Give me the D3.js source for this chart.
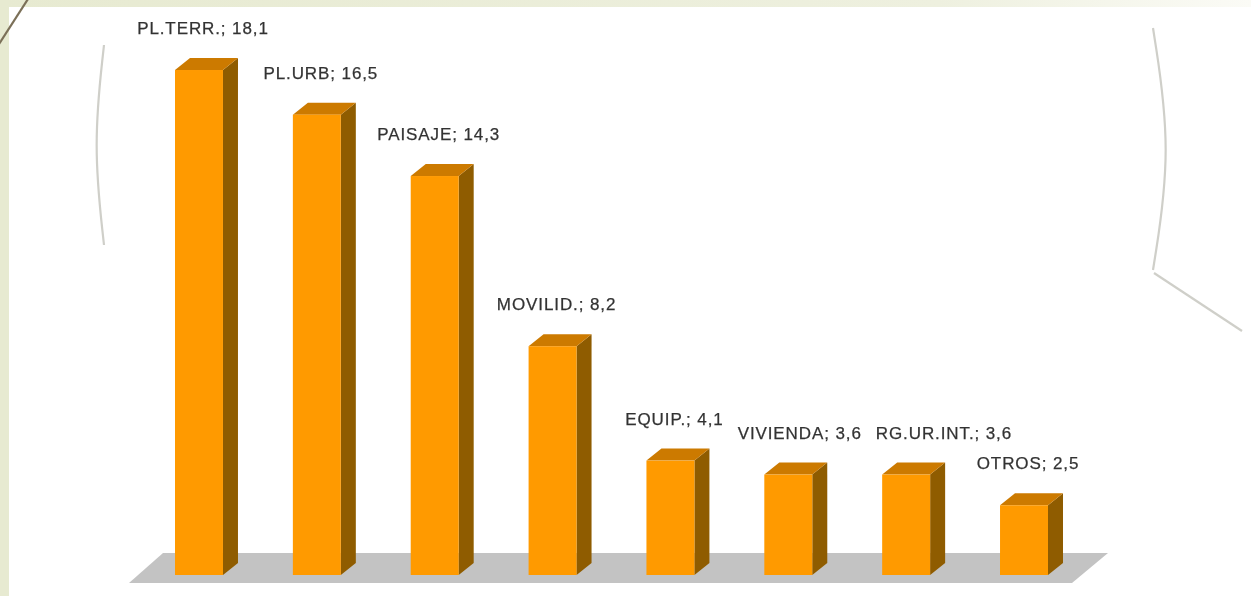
<!DOCTYPE html>
<html>
<head>
<meta charset="utf-8">
<script src="https://cdn.jsdelivr.net/npm/d3@7"></script>
<style>
  html, body { margin: 0; padding: 0; background: #ffffff; }
  svg { display: block; }
</style>
</head>
<body>
<svg id="chart" width="1251" height="596"></svg>
<script>
// ---- data ----
const categories = ["PL.TERR.", "PL.URB", "PAISAJE", "MOVILID.", "EQUIP.", "VIVIENDA", "RG.UR.INT.", "OTROS"];
const values = [18.1, 16.5, 14.3, 8.2, 4.1, 3.6, 3.6, 2.5];

// ---- layout ----
const W = 1251, H = 596;
const baseY = 575;
const depthX = 15, depthY = -12;

const svg = d3.select("#chart");

// background frame
const defs = svg.append("defs");
const grad = defs.append("linearGradient").attr("id", "topband").attr("x1", "0").attr("x2", "1").attr("y1", "0").attr("y2", "0");
grad.append("stop").attr("offset", "0").attr("stop-color", "#e7ead1");
grad.append("stop").attr("offset", "0.75").attr("stop-color", "#eef0df");
grad.append("stop").attr("offset", "1").attr("stop-color", "#fbfbf6");
const blur = defs.append("filter").attr("id", "soft");
blur.append("feGaussianBlur").attr("stdDeviation", 0.35);

svg.append("rect").attr("x", 0).attr("y", 0).attr("width", W).attr("height", H).attr("fill", "#ffffff");
svg.append("rect").attr("x", 0).attr("y", 0).attr("width", W).attr("height", 7).attr("fill", "url(#topband)");
svg.append("rect").attr("x", 0).attr("y", 0).attr("width", 9).attr("height", H).attr("fill", "#e7ead1");
svg.append("line").attr("x1", -1).attr("y1", 44).attr("x2", 28).attr("y2", -1)
  .attr("stroke", "#7b7058").attr("stroke-width", 2.2);

// decorative curves
const line = d3.line().curve(d3.curveBasis);
svg.append("path").attr("d", line([[104, 45], [93, 145], [104, 245]]))
  .attr("fill", "none").attr("stroke", "#cfcfc9").attr("stroke-width", 2.2);
svg.append("path").attr("d", line([[1153, 28], [1172, 150], [1153, 270]]))
  .attr("fill", "none").attr("stroke", "#cfcfc9").attr("stroke-width", 2.2);
svg.append("path").attr("d", d3.line()([[1154, 273], [1242, 331]]))
  .attr("fill", "none").attr("stroke", "#cfcfc9").attr("stroke-width", 2.2);

// scales
const x = d3.scaleBand().domain(categories).range([175, 1048]).paddingInner(0.593).paddingOuter(0);
const y = d3.scaleLinear().domain([0, 20]).range([baseY, baseY - 20 * 27.9]);
const bw = x.bandwidth();

const g = svg.append("g").attr("filter", "url(#soft)");

// floor
const r0 = x.range()[0], r1 = x.range()[1];
g.append("polygon")
  .attr("points", [[r0 - 46, 583], [r0 - 12, 553], [r1 + 60, 553], [r1 + 24, 583]].map(p => p.join(",")).join(" "))
  .attr("fill", "#c3c3c3");

const data = categories.map((c, i) => ({ cat: c, val: values[i] }));

const bars = g.selectAll("g.bar").data(data).join("g").attr("class", "bar");

// side face
bars.append("polygon")
  .attr("points", d => {
    const x0 = x(d.cat) + bw, yt = y(d.val);
    return [[x0, yt], [x0 + depthX, yt + depthY], [x0 + depthX, y(0) + depthY], [x0, y(0)]].map(p => p.join(",")).join(" ");
  })
  .attr("fill", "#8f5c00");

// top face
bars.append("polygon")
  .attr("points", d => {
    const x0 = x(d.cat), yt = y(d.val);
    return [[x0, yt], [x0 + depthX, yt + depthY], [x0 + bw + depthX, yt + depthY], [x0 + bw, yt]].map(p => p.join(",")).join(" ");
  })
  .attr("fill", "#cc7a00");

// front face
bars.append("rect")
  .attr("x", d => x(d.cat))
  .attr("y", d => y(d.val))
  .attr("width", bw)
  .attr("height", d => y(0) - y(d.val))
  .attr("fill", "#ff9a00");

// labels
const fmt = v => d3.format(".1f")(v).replace(".", ",");
const labels = g.selectAll("text.lbl").data(data).join("text")
  .attr("class", "lbl")
  .attr("x", d => x(d.cat) + bw / 2 + 4)
  .attr("y", d => y(d.val) - 36)
  .attr("text-anchor", "middle")
  .attr("font-family", "Liberation Sans, Arial, sans-serif")
  .attr("font-size", 17)
  .attr("letter-spacing", 0.9)
  .attr("fill", "#333333")
  .attr("stroke", "#333333")
  .attr("stroke-width", 0.25)
  .text(d => d.cat + "; " + fmt(d.val));

// simple collision avoidance: push a label right if it overlaps the previous one on the same row
const nodes = labels.nodes();
for (let i = 1; i < nodes.length; i++) {
  const a = nodes[i - 1].getBBox(), b = nodes[i].getBBox();
  const sameRow = Math.abs(a.y - b.y) < a.height;
  const gap = 14;
  if (sameRow && b.x < a.x + a.width + gap) {
    const shift = a.x + a.width + gap - b.x;
    nodes[i].setAttribute("x", +nodes[i].getAttribute("x") + shift);
  }
}
</script>
</body>
</html>
